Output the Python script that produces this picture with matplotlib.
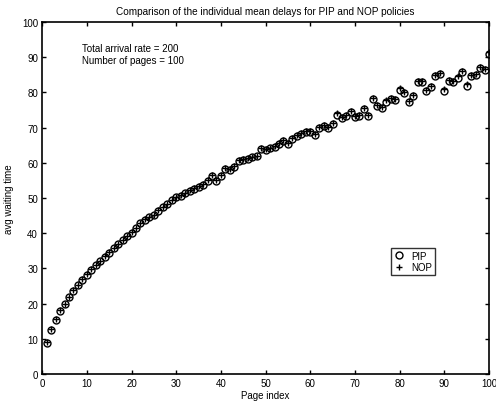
import numpy as np
import matplotlib.pyplot as plt

plt.rcParams['font.family'] = ['Liberation Sans', 'DejaVu Sans']

# page index 1..100
pages = np.arange(1, 101)

# mean delay per page, PIP policy
pip = [8.8, 12.5, 15.3, 17.8, 19.8, 21.8, 23.6, 25.2, 26.8, 28.2,
       29.6, 30.9, 32.1, 33.3, 34.5, 35.8, 36.9, 38.0, 39.2, 40.2,
       41.4, 42.9, 43.8, 44.6, 45.1, 46.4, 47.3, 48.2, 49.3, 50.2,
       50.7, 51.3, 52.1, 52.6, 53.1, 53.8, 54.9, 56.2, 54.9, 56.3,
       58.2, 58.0, 58.8, 60.6, 60.9, 61.2, 61.5, 61.8, 63.9, 63.7,
       64.1, 64.6, 65.3, 66.3, 65.3, 66.8, 67.5, 68.2, 68.6, 68.8,
       67.9, 70.0, 70.5, 70.0, 71.0, 73.7, 72.8, 73.2, 74.3, 73.0,
       73.2, 75.3, 73.2, 78.1, 76.2, 75.6, 77.4, 78.1, 77.7, 80.8,
       79.8, 77.2, 78.9, 82.8, 83.0, 80.5, 81.4, 84.7, 85.2, 80.5,
       83.3, 82.8, 84.2, 85.9, 81.9, 84.5, 84.9, 86.8, 86.4, 90.9]

# NOP policy, almost on top of PIP
nop = [9.2, 12.8, 15.6, 18.1, 19.9, 22.0, 23.8, 25.3, 26.9, 28.4,
       29.7, 31.0, 32.2, 33.5, 34.6, 35.9, 37.0, 38.1, 39.3, 40.4,
       41.6, 42.8, 43.9, 44.7, 45.3, 46.5, 47.4, 48.4, 49.4, 50.3,
       50.9, 51.4, 52.2, 52.8, 53.3, 54.0, 55.1, 56.4, 55.2, 56.5,
       58.4, 58.3, 59.0, 60.8, 61.1, 61.4, 61.7, 62.0, 64.1, 63.9,
       64.3, 64.9, 65.5, 66.5, 65.6, 67.0, 67.8, 68.5, 68.9, 69.1,
       68.2, 70.3, 70.8, 70.3, 71.3, 74.0, 73.1, 73.5, 74.6, 73.3,
       73.5, 75.6, 73.6, 78.4, 76.5, 75.9, 77.7, 78.4, 78.0, 81.1,
       80.1, 77.6, 79.2, 83.1, 83.3, 80.8, 81.7, 85.0, 85.5, 80.9,
       83.6, 83.1, 84.5, 86.2, 82.3, 84.8, 85.2, 87.1, 86.7, 91.4]

ticks = np.arange(0, 101, 10)

fig = plt.figure(figsize=(4.96, 4.02), dpi=100)
ax = fig.add_axes([0.085, 0.067, 0.901, 0.876])

ax.plot(pages, pip, 'o', color='black', mfc='none', ms=5, mew=1.0, label='PIP')
ax.plot(pages, nop, '+', color='black', ms=5, mew=1.0, label='NOP')

ax.set_xlim(0, 100)
ax.set_ylim(0, 100)
ax.set_xticks(ticks)
ax.set_yticks(ticks)
ax.tick_params(direction='in', top=True, right=True, labelsize=7, length=3, width=1, pad=3)
for s in ax.spines.values():
    s.set_linewidth(1.2)

ax.set_title('Comparison of the individual mean delays for PIP and NOP policies', fontsize=7.2, pad=6)
ax.set_xlabel('Page index', fontsize=7, labelpad=1)
ax.set_ylabel('avg waiting time', fontsize=7, labelpad=6)

ax.text(9, 91.8, 'Total arrival rate = 200', fontsize=7)
ax.text(9, 88.3, 'Number of pages = 100', fontsize=7)

leg = ax.legend(loc='upper left', bbox_to_anchor=(0.77, 0.372), fontsize=7,
                frameon=True, fancybox=False, edgecolor='black', handlelength=1.0,
                handletextpad=0.8, borderpad=0.3, labelspacing=0.15)
leg.get_frame().set_linewidth(1.0)

fig.savefig('out.png', dpi=100)
